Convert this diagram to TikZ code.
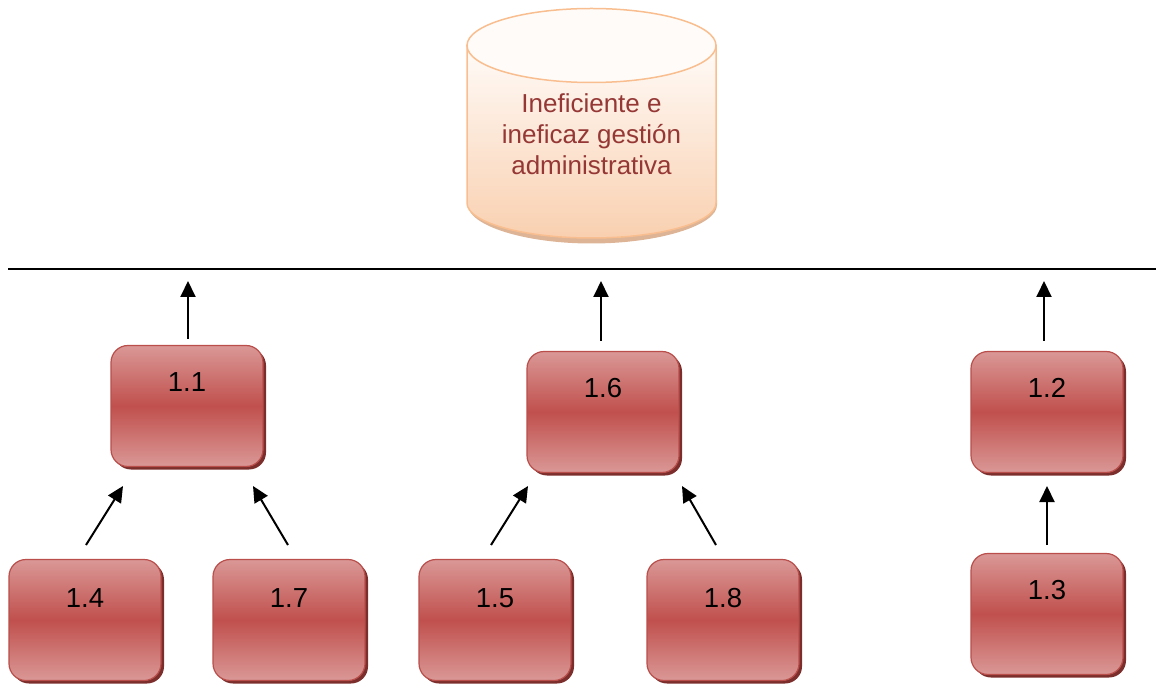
\documentclass[tikz,border=0pt]{standalone}
\usepackage{fontspec}
\setmainfont{Liberation Sans}
\usetikzlibrary{arrows.meta,shadows}
\definecolor{boxmid}{HTML}{C0504D}
\definecolor{boxlight}{HTML}{DA9896}
\definecolor{boxedge}{HTML}{B94E4B}
\definecolor{boxshadow}{HTML}{7B2E2C}
\definecolor{cylline}{HTML}{F9BE8F}
\definecolor{cyltop}{HTML}{FFFBF8}
\definecolor{cylbot}{HTML}{F9D0B0}
\definecolor{cylshadow}{HTML}{DDB496}
\definecolor{cyltext}{HTML}{953735}
\tikzset{
  x=1pt, y=-1pt,
  box/.style={draw=boxedge, line width=1.2pt, rounded corners=17pt,
    minimum width=152pt, minimum height=121pt, inner sep=0pt,
    top color=boxlight, bottom color=boxlight, middle color=boxmid,
    drop shadow={shadow xshift=3pt, shadow yshift=-3pt, fill=boxshadow, opacity=1}},
  boxtxt/.style={font=\fontsize{27.5}{32}\selectfont, text=black, inner sep=0pt},
  cyltxt/.style={font=\fontsize{26}{31}\selectfont, text=cyltext, align=center, inner sep=0pt},
  arr/.style={line width=2pt, -{Triangle[length=16pt,width=15pt]}},
  rule/.style={line width=1.2pt, black}
}
\begin{document}
\begin{tikzpicture}
\useasboundingbox (0,0) rectangle (1156,684);
% cylinder shadow
\fill[cylshadow] (468,205) .. controls (468,225) and (523,243.5) .. (591.5,243.5) .. controls (660,243.5) and (717,225) .. (717,205) -- (717,200) -- (468,200) -- cycle;
% cylinder body
\path[draw=cylline, line width=1.5pt, top color=cyltop, bottom color=cylbot]
  (467,45.5) -- (467,203) .. controls (467,222.3) and (522.7,238) .. (591.5,238)
  .. controls (660.3,238) and (716,222.3) .. (716,203) -- (716,45.5) -- cycle;
% cylinder top
\draw[cylline, line width=1.5pt, fill=cyltop] (591.5,45.5) ellipse [x radius=124.5, y radius=37];
\node[cyltxt] (cyl) at (591.5,134) {Ineficiente e\\ineficaz gesti\'on\\administrativa};
% horizontal line
\coordinate (hl) at (8,269);
\coordinate (hr) at (1156,269);
\draw[rule] (hl) -- (hr);
% boxes
\node[box] (n11) at (187,406) {};
\node[box] (n16) at (603,412) {};
\node[box] (n12) at (1047,412) {};
\node[box] (n14) at (85,620) {};
\node[box] (n17) at (289,620) {};
\node[box] (n15) at (495,620) {};
\node[box] (n18) at (723,620) {};
\node[box] (n13) at (1047,614) {};
% labels
\node[boxtxt] (l11) at ([yshift=-37pt]n11.north) {1.1};
\node[boxtxt] (l16) at ([yshift=-37pt]n16.north) {1.6};
\node[boxtxt] (l12) at ([yshift=-37pt]n12.north) {1.2};
\node[boxtxt] (l14) at ([yshift=-39pt]n14.north) {1.4};
\node[boxtxt] (l17) at ([yshift=-39pt]n17.north) {1.7};
\node[boxtxt] (l15) at ([yshift=-39pt]n15.north) {1.5};
\node[boxtxt] (l18) at ([yshift=-39pt]n18.north) {1.8};
\node[boxtxt] (l13) at ([yshift=-37pt]n13.north) {1.3};
% arrow ends
\coordinate (t11) at (188,281);
\coordinate (t16) at (601,281);
\coordinate (t12) at (1044,281);
\coordinate (a14) at (86,545);  \coordinate (b14) at (123,486);
\coordinate (a17) at (288,545); \coordinate (b17) at (253,486);
\coordinate (a15) at (491,545); \coordinate (b15) at (528,486);
\coordinate (a18) at (716,545); \coordinate (b18) at (682,486);
\coordinate (a13) at (1047,545); \coordinate (b13) at (1047,486);
\draw[arr] ([yshift=6pt]n11.north -| t11) -- (t11);
\draw[arr] ([yshift=10pt]n16.north -| t16) -- (t16);
\draw[arr] ([yshift=10pt]n12.north -| t12) -- (t12);
\draw[arr] (a14) -- (b14);
\draw[arr] (a17) -- (b17);
\draw[arr] (a15) -- (b15);
\draw[arr] (a18) -- (b18);
\draw[arr] (a13) -- (b13);
\end{tikzpicture}
\end{document}
